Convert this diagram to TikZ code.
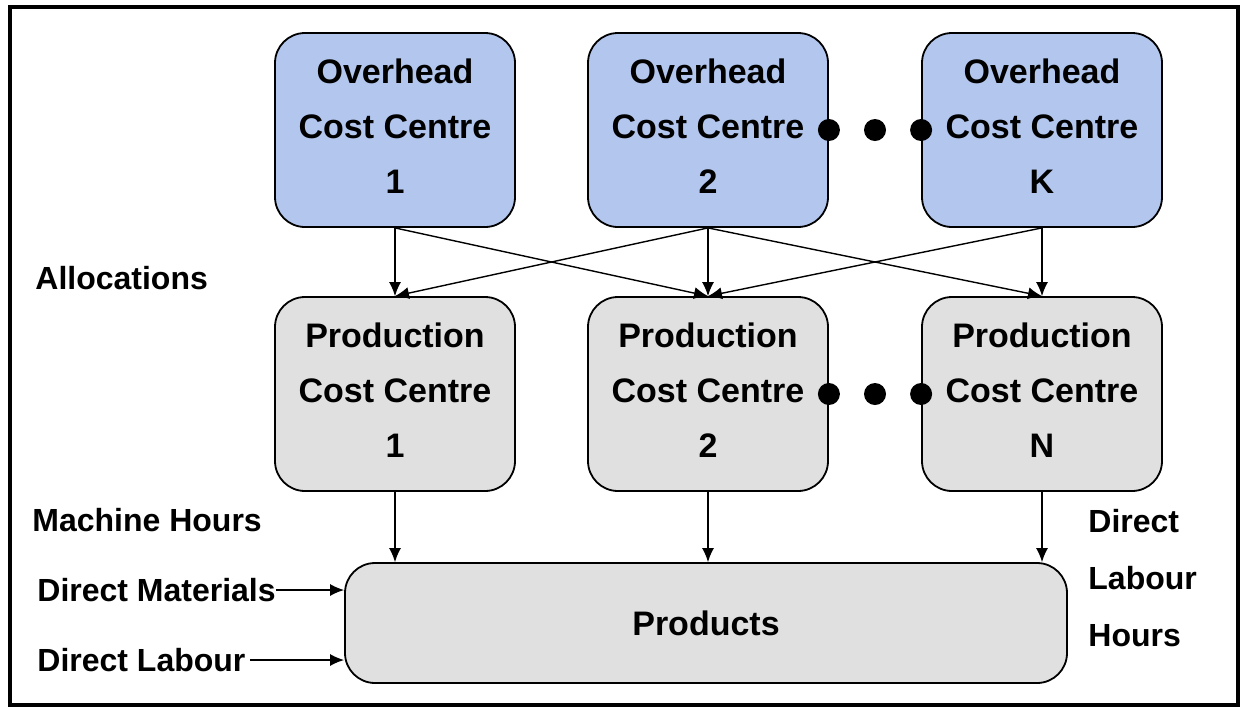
\documentclass[tikz,border=0pt]{standalone}
\usepackage{fontspec}
\setmainfont{Liberation Sans}
\usetikzlibrary{arrows.meta,calc}
\definecolor{ohblue}{RGB}{178,198,238}
\definecolor{pcgrey}{RGB}{224,224,224}
\begin{document}
\begin{tikzpicture}[x=0.5pt,y=-0.5pt,>={Latex[length=7pt,width=6pt]},
    centre/.style={draw,rounded corners=15pt,line width=0.9pt,minimum width=120pt,minimum height=97pt,align=center,inner sep=0pt,font=\fontsize{17}{27.5}\selectfont\bfseries},
    overhead/.style={centre,fill=ohblue},
    production/.style={centre,fill=pcgrey},
    flowlabel/.style={font=\fontsize{16}{28.5}\selectfont\bfseries,inner sep=0pt,align=left},
    flow/.style={->,line width=0.7pt}]
  \useasboundingbox (0,0) rectangle (1243,709);
  \draw[line width=1.6pt] (10,7) rectangle (1238,705); %frame

  % overhead cost centres
  \node[overhead,text depth=4pt] (oh1) at (395,130) {Overhead\\Cost Centre\\1};
  \node[overhead,text depth=4pt] (oh2) at (708,130) {Overhead\\Cost Centre\\2};
  \node[overhead,text depth=4pt] (ohk) at (1042,130) {Overhead\\Cost Centre\\K};

  % production cost centres
  \node[production,text depth=4pt] (pc1) at (395,394) {Production\\Cost Centre\\1};
  \node[production,text depth=4pt] (pc2) at (708,394) {Production\\Cost Centre\\2};
  \node[production,text depth=4pt] (pcn) at (1042,394) {Production\\Cost Centre\\N};

  \node[production,minimum width=361pt,minimum height=60pt] (prod) at (706,623) {Products};

  % dots between the centres
  \foreach \a/\b in {oh2/ohk,pc2/pcn}{
    \fill (\a.east) circle (11);
    \fill ($(\a.east)!0.5!(\b.west)$) circle (11);
    \fill (\b.west) circle (11);
  }

  % labels
  \node[flowlabel,anchor=west] (alloc) at (35,278) {Allocations};
  \node[flowlabel,anchor=west] (mach) at (32,520) {Machine Hours};
  \node[flowlabel,anchor=west] (dmat) at (37,590) {Direct Materials};
  \node[flowlabel,anchor=west] (dlab) at (37,660) {Direct Labour};
  \node[flowlabel,anchor=west] (dlh) at (1088,578) {Direct\\Labour\\Hours};

  % allocations
  \draw[flow] (oh1.south) -- (pc1.north);
  \draw[flow] (oh1.south) -- (pc2.north);
  \draw[flow] (oh2.south) -- (pc1.north);
  \draw[flow] (oh2.south) -- (pc2.north);
  \draw[flow] (oh2.south) -- (pcn.north);
  \draw[flow] (ohk.south) -- (pc2.north);
  \draw[flow] (ohk.south) -- (pcn.north);

  % into products
  \draw[flow] (pc1.south) -- (pc1.south |- prod.north);
  \draw[flow] (pc2.south) -- (pc2.south |- prod.north);
  \draw[flow] (pcn.south) -- (pcn.south |- prod.north);
  \draw[flow] (dmat.east) -- (dmat.east -| prod.west);
  \draw[flow] ([xshift=2pt]dlab.east) -- (dlab.east -| prod.west);
\end{tikzpicture}
\end{document}
